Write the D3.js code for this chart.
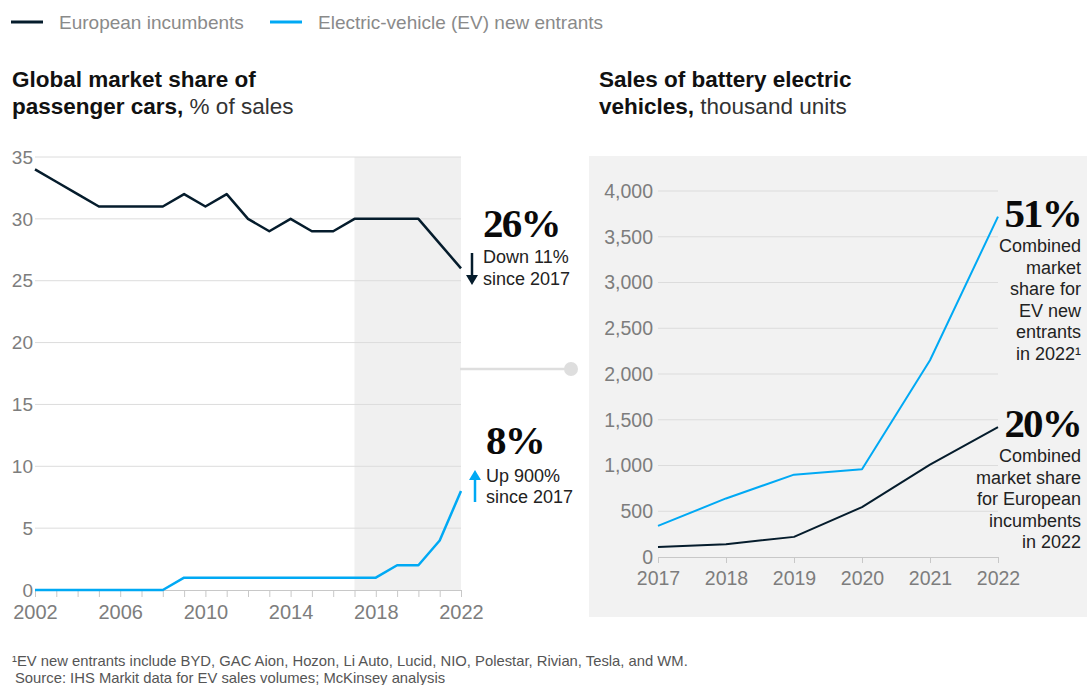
<!DOCTYPE html>
<html>
<head>
<meta charset="utf-8">
<script src="https://cdn.jsdelivr.net/npm/d3@7"></script>
<style>
  html, body { margin: 0; padding: 0; background: #fff; }
  svg { display: block; font-family: "Liberation Sans", Arial, sans-serif; }
</style>
</head>
<body>
<svg id="chart" width="1087" height="685"></svg>
<script>
// ---- Market share of passenger cars, % of sales (2002–2022)
const shareYears = d3.range(2002, 2023);
const incumbentShare = [34, 33, 32, 31, 31, 31, 31, 32, 31, 32, 30, 29, 30, 29, 29, 30, 30, 30, 30, 28, 26];
const entrantShare   = [0, 0, 0, 0, 0, 0, 0, 1, 1, 1, 1, 1, 1, 1, 1, 1, 1, 2, 2, 4, 8];
const shareTicks = [0, 5, 10, 15, 20, 25, 30, 35];
const shareYearLabels = [2002, 2006, 2010, 2014, 2018, 2022];

// ---- Battery-electric vehicle sales, thousand units (2017–2022)
const bevYears = [2017, 2018, 2019, 2020, 2021, 2022];
const incumbentBev = [110, 140, 220, 545, 1010, 1420];
const entrantBev   = [340, 640, 900, 960, 2150, 3720];
const bevTicks = [0, 500, 1000, 1500, 2000, 2500, 3000, 3500, 4000];

const DARK = "#051c2c";
const BLUE = "#00a9f4";
const GRID = "#dcdcdc";
const TICK_TEXT = "#7d7d7d";
const SANS = "'Liberation Sans', Arial, sans-serif";
const SERIF = "'Liberation Serif', 'Times New Roman', serif";

const svg = d3.select("#chart");

// ---------- Legend ----------
const legend = [
  { label: "European incumbents", color: DARK, x: 11 },
  { label: "Electric-vehicle (EV) new entrants", color: BLUE, x: 270 }
];
legend.forEach(d => {
  svg.append("line").attr("x1", d.x).attr("x2", d.x + 32).attr("y1", 22).attr("y2", 22)
    .attr("stroke", d.color).attr("stroke-width", 3);
  svg.append("text").attr("x", d.x + 48).attr("y", 28.5).attr("font-size", 19)
    .attr("fill", "#8a8a8a").text(d.label);
});

// ---------- Titles ----------
function title(x, line1, bold2, rest2) {
  svg.append("text").attr("x", x).attr("y", 87).attr("font-size", 22.5)
    .attr("font-weight", "bold").attr("fill", "#111").text(line1);
  const t = svg.append("text").attr("x", x).attr("y", 114).attr("font-size", 22.5).attr("fill", "#111");
  t.append("tspan").attr("font-weight", "bold").text(bold2);
  t.append("tspan").attr("fill", "#333").text(rest2);
}
title(12, "Global market share of", "passenger cars,", " % of sales");
title(599, "Sales of battery electric", "vehicles,", " thousand units");

// ---------- Left chart ----------
const xL = d3.scaleLinear().domain([2002, 2022]).range([35, 461]);
const yL = d3.scaleLinear().domain([0, 35]).range([590, 157]);

// highlighted period 2017–2022
svg.append("rect")
  .attr("x", xL(2017)).attr("y", yL(35))
  .attr("width", xL(2022) - xL(2017)).attr("height", yL(0) - yL(35))
  .attr("fill", "#f0f0f0");

const gL = svg.append("g");
gL.selectAll(".grid").data(shareTicks.filter(d => d > 0)).join("line")
  .attr("x1", xL(2002)).attr("x2", xL(2022))
  .attr("y1", d => yL(d)).attr("y2", d => yL(d))
  .attr("stroke", GRID).attr("stroke-width", 1);

gL.selectAll(".ylab").data(shareTicks).join("text")
  .attr("x", 33).attr("y", d => yL(d)).attr("dy", "0.35em")
  .attr("text-anchor", "end").attr("font-size", 19).attr("fill", TICK_TEXT)
  .text(d => d);

// x axis with yearly ticks
const axisL = d3.axisBottom(xL)
  .tickValues(shareYears).tickSize(7).tickFormat(d => shareYearLabels.includes(d) ? d : "");
const gAxL = svg.append("g").attr("transform", `translate(0,${yL(0)})`).call(axisL);
gAxL.select(".domain").attr("stroke", "#c8c8c8");
gAxL.selectAll(".tick line").attr("stroke", "#c8c8c8");
gAxL.selectAll(".tick text").attr("font-size", 20).attr("fill", TICK_TEXT)
  .style("font-family", SANS).attr("dy", "0.95em");

const lineL = (vals) => d3.line().x((d, i) => xL(shareYears[i])).y(d => yL(d))(vals);
svg.append("path").attr("d", lineL(entrantShare)).attr("fill", "none")
  .attr("stroke", BLUE).attr("stroke-width", 2.5).attr("stroke-linejoin", "round");
svg.append("path").attr("d", lineL(incumbentShare)).attr("fill", "none")
  .attr("stroke", DARK).attr("stroke-width", 2.5).attr("stroke-linejoin", "round");

// arrow markers
function arrow(x, yFrom, yTo, color) {
  const dir = yTo > yFrom ? 1 : -1;
  svg.append("line").attr("x1", x).attr("x2", x).attr("y1", yFrom).attr("y2", yTo - dir * 8)
    .attr("stroke", color).attr("stroke-width", 2.5);
  svg.append("path")
    .attr("d", `M${x - 6},${yTo - dir * 10} L${x + 6},${yTo - dir * 10} L${x},${yTo} Z`)
    .attr("fill", color);
}

function callout(x, yBig, big, lines, yLines, anchor) {
  svg.append("text").attr("x", x).attr("y", yBig).attr("text-anchor", anchor)
    .style("font-family", SERIF).attr("font-weight", "bold")
    .attr("font-size", 41).attr("letter-spacing", -1.8).attr("fill", "#0a0a0a").text(big);
  lines.forEach((l, i) => {
    svg.append("text").attr("x", x).attr("y", yLines[0] + i * yLines[1]).attr("text-anchor", anchor)
      .attr("font-size", 18).attr("fill", "#222").text(l);
  });
}

// latest values of the share lines
const lastInc = incumbentShare[incumbentShare.length - 1];
const lastEnt = entrantShare[entrantShare.length - 1];
arrow(472, 253, 285, DARK);
callout(483, 237, lastInc + "%", ["Down 11%", "since 2017"], [263, 22], "start");
arrow(475, 502, 470, BLUE);
callout(486, 454, lastEnt + "%", ["Up 900%", "since 2017"], [482, 21], "start");

// ---------- Right chart ----------
svg.append("rect").attr("x", 589).attr("y", 156).attr("width", 1087 - 589).attr("height", 617 - 156)
  .attr("fill", "#f2f2f2");

// connector between panels
svg.append("line").attr("x1", 460).attr("x2", 571).attr("y1", 369).attr("y2", 369)
  .attr("stroke", "#dedede").attr("stroke-width", 2.5);
svg.append("circle").attr("cx", 571).attr("cy", 369).attr("r", 7).attr("fill", "#dedede");

const xR = d3.scaleLinear().domain([2017, 2022]).range([658, 998]);
const yR = d3.scaleLinear().domain([0, 4000]).range([557, 191]);

svg.append("g").selectAll("line").data(bevTicks.filter(d => d > 0)).join("line")
  .attr("x1", xR(2017)).attr("x2", xR(2022))
  .attr("y1", d => yR(d)).attr("y2", d => yR(d))
  .attr("stroke", GRID).attr("stroke-width", 1);

svg.append("g").selectAll("text").data(bevTicks).join("text")
  .attr("x", 653).attr("y", d => yR(d)).attr("dy", "0.35em")
  .attr("text-anchor", "end").attr("font-size", 19.5).attr("fill", TICK_TEXT)
  .text(d => d3.format(",")(d));

const axisR = d3.axisBottom(xR).tickValues(bevYears).tickSize(6).tickFormat(d3.format("d"));
const gAxR = svg.append("g").attr("transform", `translate(0,${yR(0)})`).call(axisR);
gAxR.select(".domain").attr("stroke", "#c8c8c8");
gAxR.selectAll(".tick line").attr("stroke", "#c8c8c8");
gAxR.selectAll(".tick text").attr("font-size", 19.5).attr("fill", TICK_TEXT)
  .style("font-family", SANS).attr("dy", "0.95em");

const lineR = (vals) => d3.line().x((d, i) => xR(bevYears[i])).y(d => yR(d))(vals);
svg.append("path").attr("d", lineR(entrantBev)).attr("fill", "none")
  .attr("stroke", BLUE).attr("stroke-width", 2).attr("stroke-linejoin", "round");
svg.append("path").attr("d", lineR(incumbentBev)).attr("fill", "none")
  .attr("stroke", DARK).attr("stroke-width", 2).attr("stroke-linejoin", "round");

callout(1081, 227, "51%", ["Combined", "market", "share for", "EV new", "entrants", "in 2022¹"], [252, 21.6], "end");
callout(1081, 437, "20%", ["Combined", "market share", "for European", "incumbents", "in 2022"], [462, 21.6], "end");

// ---------- Footnotes ----------
svg.append("text").attr("x", 12).attr("y", 666).attr("font-size", 14.8).attr("fill", "#555")
  .text("¹EV new entrants include BYD, GAC Aion, Hozon, Li Auto, Lucid, NIO, Polestar, Rivian, Tesla, and WM.");
svg.append("text").attr("x", 15).attr("y", 683).attr("font-size", 14.8).attr("fill", "#555")
  .text("Source: IHS Markit data for EV sales volumes; McKinsey analysis");
</script>
</body>
</html>
